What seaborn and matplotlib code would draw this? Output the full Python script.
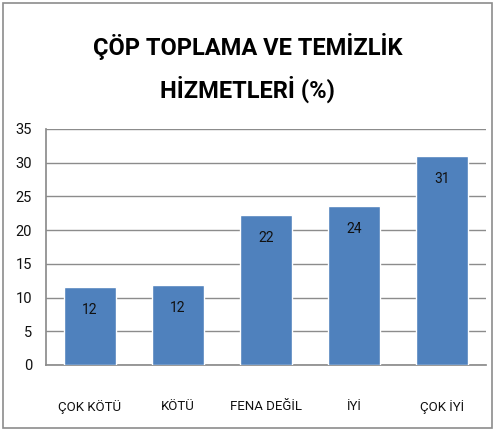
import matplotlib
matplotlib.use("Agg")
import matplotlib.pyplot as plt
from matplotlib.patches import Rectangle
import pandas as pd
import seaborn as sns

# data
categories = ["ÇOK KÖTÜ", "KÖTÜ", "FENA DEĞİL", "İYİ", "ÇOK İYİ"]
values = [11.6, 11.9, 22.3, 23.6, 31.0]
labels = ["12", "12", "22", "24", "31"]
yticks = [0, 5, 10, 15, 20, 25, 30, 35]

df = pd.DataFrame({"kategori": categories, "yuzde": values})

sns.set_theme(style="white")
plt.rcParams["font.family"] = ["Roboto", "DejaVu Sans"]

fig = plt.figure(figsize=(4.95, 4.29), dpi=100)
ax = fig.add_axes([46 / 495, 1 - 365 / 429, 440 / 495, 236 / 429])

sns.barplot(data=df, x="kategori", y="yuzde", color="#4F81BD", saturation=1,
            width=0.58, ax=ax, zorder=3)

for p, lab in zip(ax.patches, labels):
    ax.annotate(lab, (p.get_x() + p.get_width() / 2, p.get_height()),
                xytext=(0, -23), textcoords="offset pixels",
                ha="center", va="center", fontsize=10, color="#111111", zorder=4)

ax.set_ylim(0, 35)
ax.set_xlim(-0.5, 4.5)
ax.set_yticks(yticks)
ax.yaxis.grid(True, color="#8c8c8c", linewidth=1, zorder=0)
ax.set_xlabel("")
ax.set_ylabel("")
for s in ["top", "right"]:
    ax.spines[s].set_visible(False)
ax.spines["left"].set_color("#8c8c8c")
ax.spines["bottom"].set_color("#8c8c8c")
ax.tick_params(axis="y", labelsize=10.5, pad=10, colors="#111111", length=0)
ax.tick_params(axis="x", labelsize=9.5, pad=25, colors="#111111", length=0)

fig.text(0.5, 1 - 47 / 429, "ÇÖP TOPLAMA VE TEMİZLİK", ha="center", va="center",
         fontsize=17, fontweight="bold", color="black")
fig.text(0.5, 1 - 89 / 429, "HİZMETLERİ (%)", ha="center", va="center",
         fontsize=17, fontweight="bold", color="black")

fig.patches.append(Rectangle((3 / 495, 1 / 429), 489 / 495, 425 / 429,
                             transform=fig.transFigure, fill=False,
                             edgecolor="#8c8c8c", linewidth=1.2))

fig.savefig("out.png", dpi=100)
